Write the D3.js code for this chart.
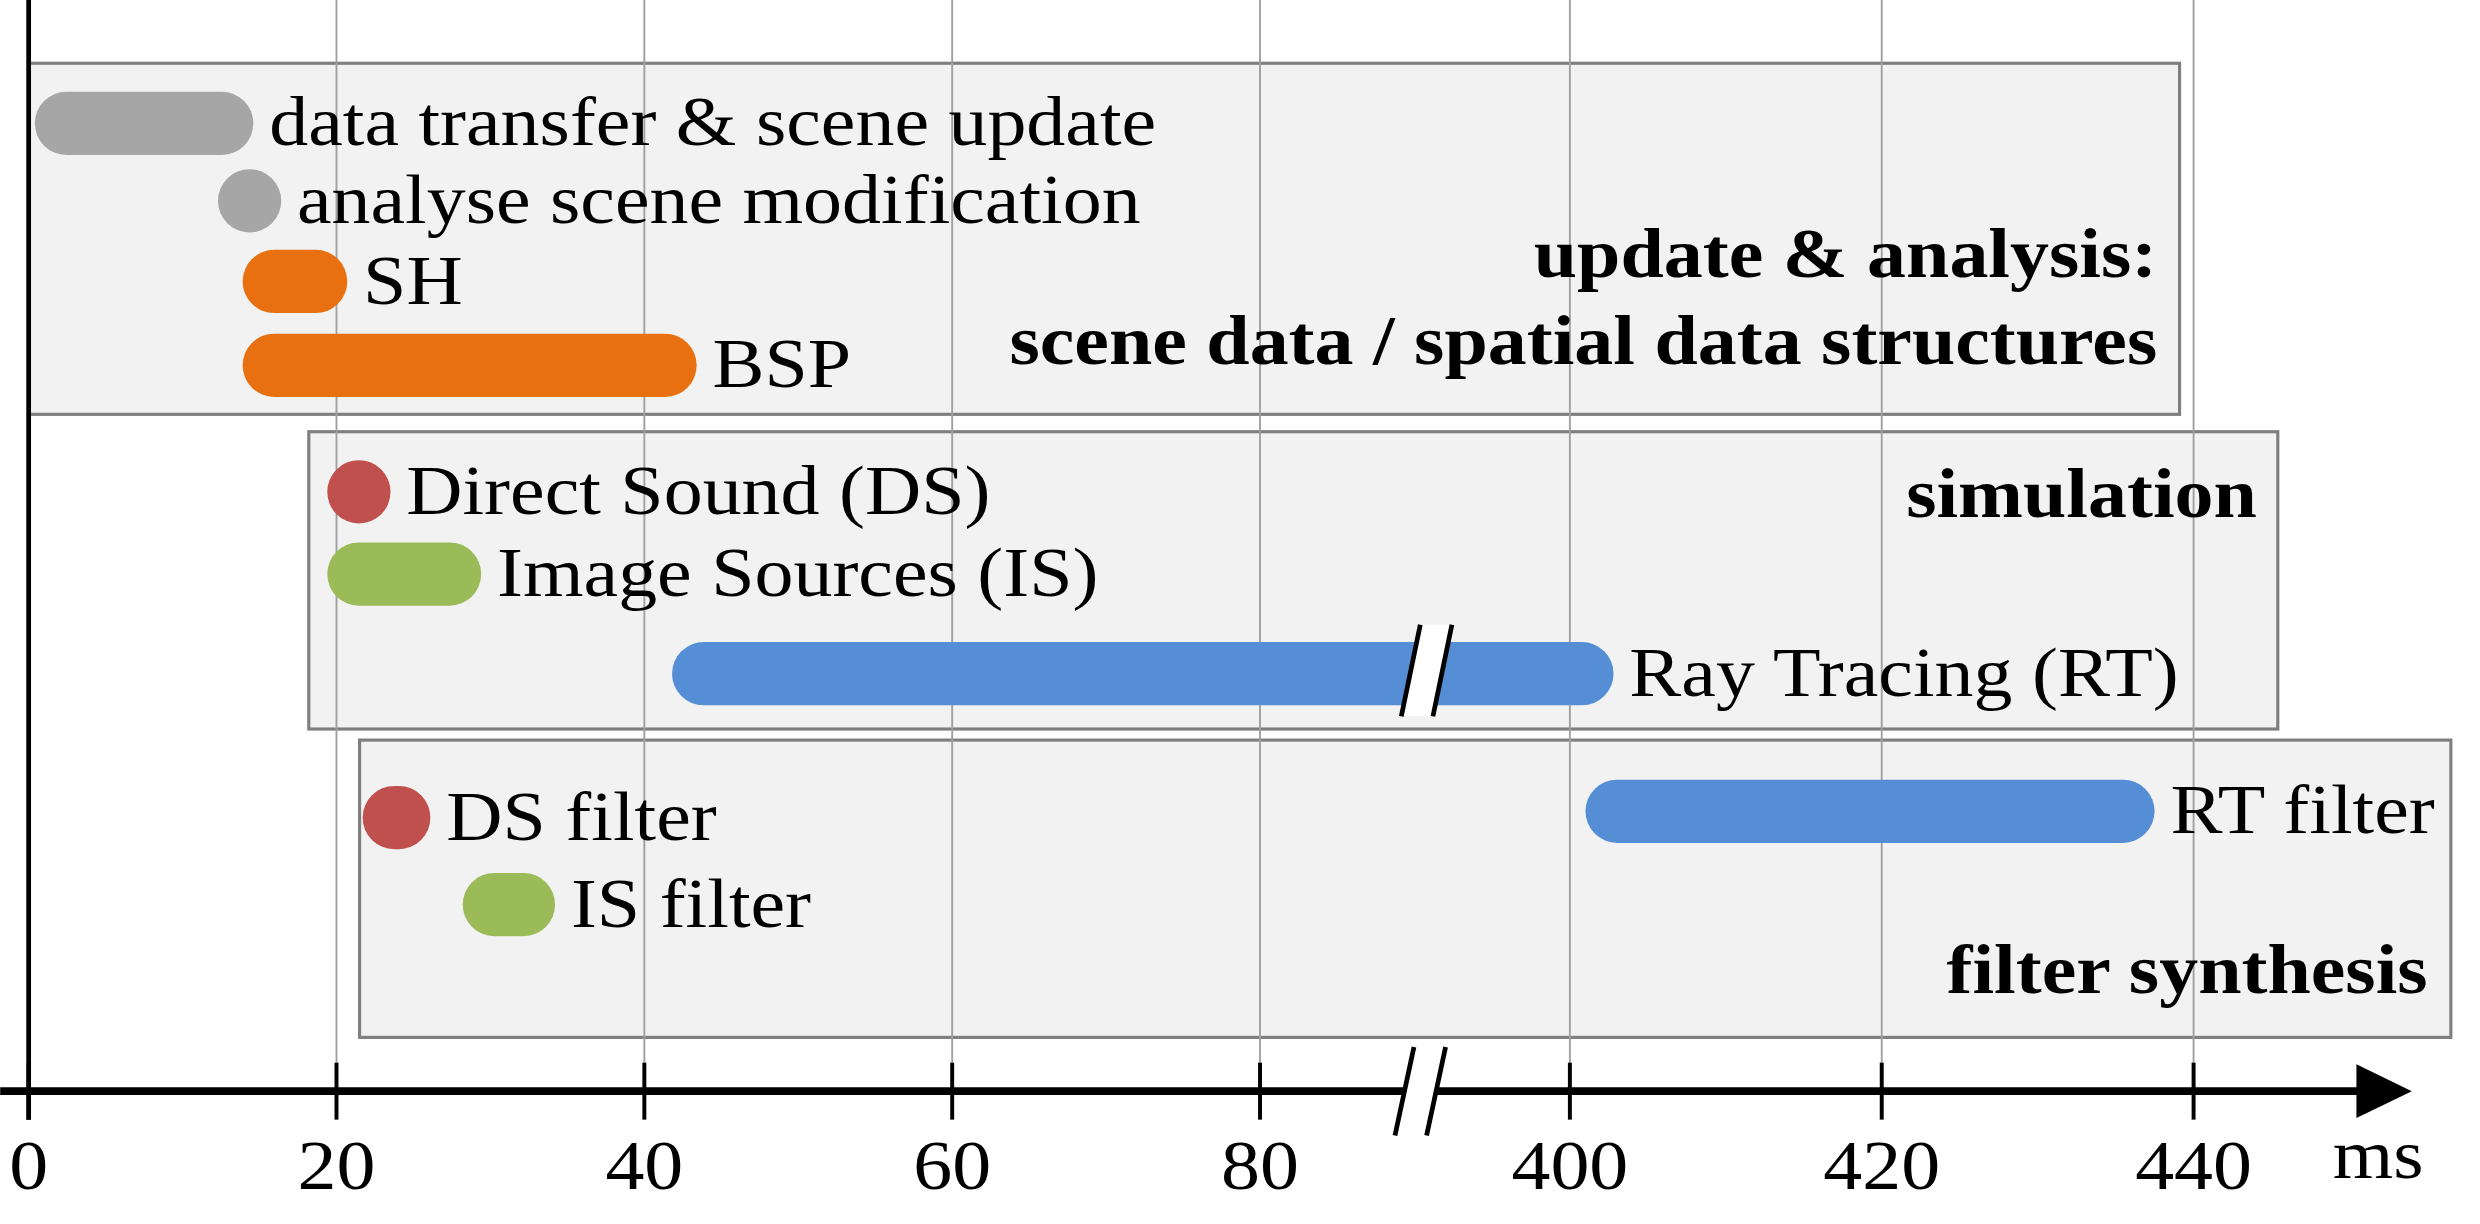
<!DOCTYPE html>
<html><head><meta charset="utf-8">
<script src="https://cdn.jsdelivr.net/npm/d3@7"></script>
<style>body{margin:0;background:#fff}text{font-family:"Liberation Serif","Times New Roman",serif}</style>
</head><body><svg id="c" width="2480" height="1224" viewBox="0 0 1568 774"></svg>
<script>
// data (ms)
const tasks = ["data transfer & scene update","analyse scene modification","SH","BSP",
  "Direct Sound (DS)","Image Sources (IS)","Ray Tracing (RT)","DS filter","IS filter","RT filter"];
const starts = [0.4, 12.3, 13.9, 13.9, 19.4, 19.4, 41.8, 21.7, 28.2, 401.0];
const ends   = [14.6, 16.4, 20.7, 43.4, 23.5, 29.4, 402.8, 26.1, 34.2, 437.5];
const colorKey = ["gray","gray","orange","orange","red","green","blue","red","green","blue"];
const groups = [["update & analysis:","scene data / spatial data structures"],["simulation"],["filter synthesis"]];
const groupStart = [0, 18.2, 21.5];
const groupEnd = [439.1, 445.4, 456.5];
const ticks = [0,20,40,60,80,400,420,440];

const palette = {gray:"#a6a6a6",orange:"#e97010",red:"#c0504d",green:"#9bbb59",blue:"#558ed5"};
const rowY = [78,127,178,231,311,363,426,517,572,513];
const boxY = [[40,262],[273,461],[468,656]];
const axisY = 690, R = 20, FS = 44, SX = 1.12;

const x = d3.scaleLinear().domain([0,90,390,440]).range([18,894,894,1387]);
const svg = d3.select("#c");

function label(tx, ty, t, anchor, bold){
  return svg.append("text").attr("transform",`translate(${tx},${ty}) scale(${SX},1)`)
    .attr("text-anchor",anchor||"start").attr("font-weight",bold?"bold":"normal")
    .attr("font-size",FS).text(t);
}

// boxes
svg.selectAll("rect.box").data(groups).join("rect")
  .attr("x",(d,i)=>x(groupStart[i])).attr("y",(d,i)=>boxY[i][0])
  .attr("width",(d,i)=>x(groupEnd[i])-x(groupStart[i])).attr("height",(d,i)=>boxY[i][1]-boxY[i][0])
  .attr("fill","#f2f2f2").attr("stroke","#7f7f7f").attr("stroke-width",2);

// grid
svg.selectAll("line.grid").data(ticks.slice(1)).join("line")
  .attr("x1",d=>x(d)).attr("x2",d=>x(d)).attr("y1",0).attr("y2",axisY)
  .attr("stroke","#a0a0a0").attr("stroke-width",1.2);

// group titles
const titleX = [1364,1427,1535], titleBase = [[175,230],[327],[628]];
groups.forEach((g,i)=>g.forEach((t,j)=>label(titleX[i],titleBase[i][j],t,"end",true)));

// bars
svg.selectAll("line.bar").data(tasks).join("line")
  .attr("x1",(d,i)=>x(starts[i])+R).attr("x2",(d,i)=>Math.max(x(ends[i])-R,x(starts[i])+R))
  .attr("y1",(d,i)=>rowY[i]).attr("y2",(d,i)=>rowY[i])
  .attr("stroke",(d,i)=>palette[colorKey[i]]).attr("stroke-width",2*R).attr("stroke-linecap","round");

tasks.forEach((t,i)=>label(x(ends[i])+10, rowY[i]+14, t));

// axes
svg.append("line").attr("x1",18).attr("x2",18).attr("y1",0).attr("y2",708).attr("stroke","#000").attr("stroke-width",3);
svg.append("line").attr("x1",0).attr("x2",1495).attr("y1",axisY).attr("y2",axisY).attr("stroke","#000").attr("stroke-width",5);
svg.append("path").attr("d",`M1490,${axisY-17}L1525,${axisY}L1490,${axisY+17}Z`).attr("fill","#000");
svg.selectAll("line.tick").data(ticks).join("line")
  .attr("x1",d=>x(d)).attr("x2",d=>x(d)).attr("y1",axisY-18).attr("y2",axisY+18)
  .attr("stroke","#000").attr("stroke-width",2.5);
ticks.forEach(d=>label(x(d),752,d,"middle"));
label(1475,745,"ms");

// break marks
function brk(cx, cy, h){
  const t = cy-h/2, b = cy+h/2;
  svg.append("path").attr("d",`M${cx-4},${t}L${cx+16},${t}L${cx+4},${b}L${cx-16},${b}Z`).attr("fill","#fff");
  [-10,10].forEach(o=>svg.append("line").attr("x1",cx+o+6).attr("y1",t).attr("x2",cx+o-6).attr("y2",b)
    .attr("stroke","#000").attr("stroke-width",3));
}
brk(x(90)+8,424,58);
brk(x(90)+4,axisY,56);
</script></body></html>
